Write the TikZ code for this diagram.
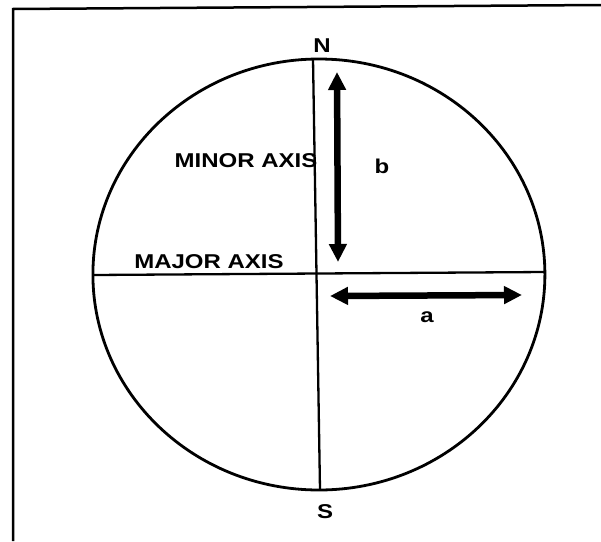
\documentclass[tikz,border=0pt]{standalone}
\usepackage{fontspec}
\setmainfont{Liberation Sans}
\newfontfamily\lblfont{Liberation Sans}[FakeStretch=1.2]
\usetikzlibrary{arrows.meta, positioning}

\begin{document}
\begin{tikzpicture}[
  x=1pt, y=-1pt,
  lbl/.style={font=\fontsize{20}{20}\lblfont\bfseries, inner sep=0pt},
  axisline/.style={line width=2.3pt},
  dimarr/.style={{Triangle[length=18pt, width=17pt]}-{Triangle[length=18pt, width=17pt]}, line width=6.5pt}
]
\useasboundingbox (0,0) rectangle (601,541);
% frame
\draw[line width=2.5pt] (13,541) -- (13,9) -- (601,5);
% earth outline
\draw[line width=2.8pt] (318.9,274.5) ellipse [x radius=226, y radius=215.5];
\coordinate (top) at (313,59);
\coordinate (bot) at (320,490);
\coordinate (lft) at (93,275);
\coordinate (rgt) at (545,272);
\draw[axisline] (top) -- (bot);
\draw[axisline] (lft) -- (rgt);
% semi-axes
\coordinate (btop) at (337,72);
\coordinate (bbot) at (338,262);
\coordinate (aleft) at (330,296);
\coordinate (aright) at (522,295);
\draw[dimarr] (btop) -- (bbot);
\draw[dimarr] (aleft) -- (aright);
% labels
\node[lbl] (north) at (322,46) {N};
\node[lbl] (south) at (325,512) {S};
\node[lbl] (minor) at (246,161) {MINOR AXIS};
\node[lbl] (major) at (209,262) {MAJOR AXIS};
\node[lbl] (blab) at (382,166) {b};
\node[lbl] (alab) at (427,317) {a};
\end{tikzpicture}
\end{document}
